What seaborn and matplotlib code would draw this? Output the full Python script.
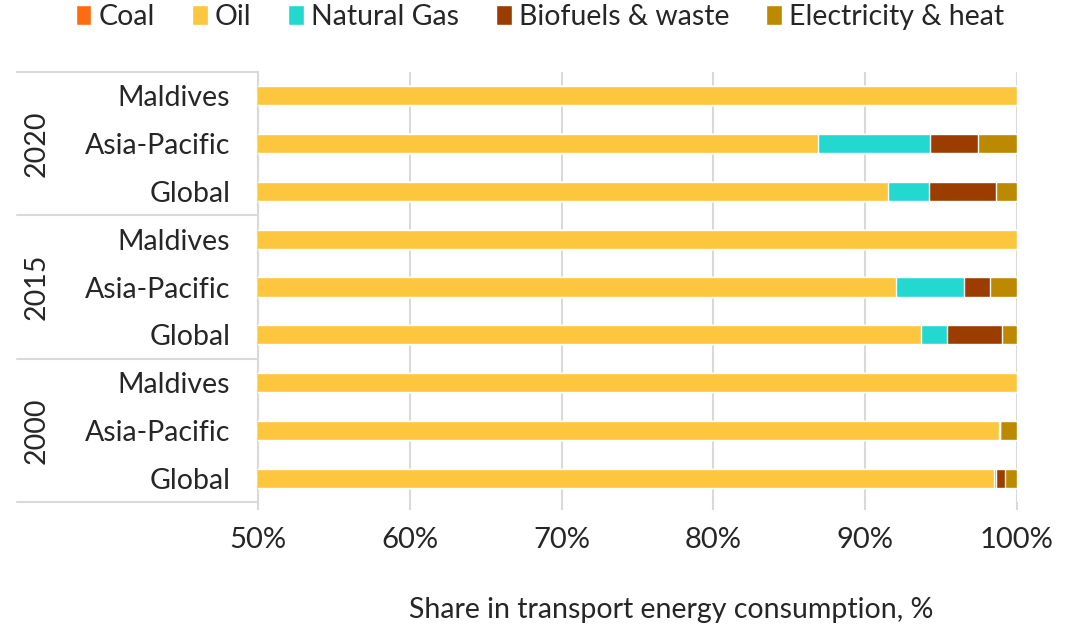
import seaborn as sns
import matplotlib.pyplot as plt
import pandas as pd
from matplotlib.patches import Patch

years = ['2020', '2015', '2000']
regions = ['Maldives', 'Asia-Pacific', 'Global']
fuels = ['Coal', 'Oil', 'Natural Gas', 'Biofuels & waste', 'Electricity & heat']
colors = ['#FF6B10', '#FCC63F', '#23D8CF', '#9C3D00', '#BB8A00']

# rows top to bottom: 2020 (Maldives, Asia-Pacific, Global), 2015 ..., 2000 ...
coal = [0.0, 0.0, 0.0, 0.0, 0.0, 0.0, 0.0, 0.0, 0.0]
oil = [100.0, 86.9, 91.5, 100.0, 92.0, 93.7, 100.0, 98.8, 98.5]
gas = [0.0, 7.4, 2.7, 0.0, 4.5, 1.7, 0.0, 0.1, 0.1]
bio = [0.0, 3.1, 4.4, 0.0, 1.7, 3.6, 0.0, 0.0, 0.6]
elec = [0.0, 2.6, 1.4, 0.0, 1.8, 1.0, 0.0, 1.1, 0.8]

keys = [f'{y} {r}' for y in years for r in regions]
df = pd.DataFrame({'key': keys, 'Coal': coal, 'Oil': oil, 'Natural Gas': gas,
                   'Biofuels & waste': bio, 'Electricity & heat': elec})
cum = df[fuels].cumsum(axis=1)
cum['key'] = keys

sns.set_theme(style='white')
plt.rcParams['font.family'] = ['Lato', 'DejaVu Sans']
fs = 20.5

fig = plt.figure(figsize=(10.89, 6.29), dpi=100)
ax = fig.add_axes([258 / 1089, 1 - 502 / 629, 759 / 1089, 430 / 629])

# stacked bars: draw cumulative totals from the largest down
for fuel, col in reversed(list(zip(fuels, colors))):
    sns.barplot(data=cum, x=fuel, y='key', color=col, orient='h', width=0.4,
                saturation=1, errorbar=None, ax=ax, zorder=3)

ax.set_xlim(50, 100)
ax.set_ylim(len(keys) - 0.5, -0.5)
ticks = [50, 60, 70, 80, 90, 100]
ax.set_xticks(ticks)
ax.set_xticklabels([f'{t}%' for t in ticks], fontsize=21)
ax.set_yticks(range(len(keys)))
ax.set_yticklabels(regions * 3, fontsize=fs)
ax.set_xlabel('')
ax.set_ylabel('')
ax.grid(axis='x', color='#D9D9D9', linewidth=1.5, zorder=0)
ax.tick_params(axis='x', length=6, width=1.5, color='#D9D9D9', pad=12, bottom=True)
ax.tick_params(axis='y', length=0, pad=20)
for s in ['top', 'right', 'bottom']:
    ax.spines[s].set_visible(False)
ax.spines['left'].set_color('#D9D9D9')
ax.spines['left'].set_linewidth(1.5)

# group separators and year labels on the left
tr = ax.get_yaxis_transform()
for yy in [-0.5, 2.5, 5.5, 8.5]:
    ax.plot([-0.318, 0], [yy, yy], transform=tr, color='#D9D9D9', lw=1.5, clip_on=False)
for i, yr in enumerate(years):
    ax.text(-0.292, i * 3 + 1, yr, transform=tr, rotation=90,
            ha='center', va='center', fontsize=fs)

handles = [Patch(facecolor=c, label=f) for f, c in zip(fuels, colors)]
fig.legend(handles=handles, loc='upper center', bbox_to_anchor=(540 / 1089, 1.035),
           ncol=5, frameon=False, fontsize=fs, handlelength=0.55, handleheight=0.7,
           handletextpad=0.25, columnspacing=1.3)

fig.text(671 / 1089, 1 - 610 / 629, 'Share in transport energy consumption, %',
         ha='center', va='center', fontsize=fs)

plt.savefig('out.png', dpi=100)
